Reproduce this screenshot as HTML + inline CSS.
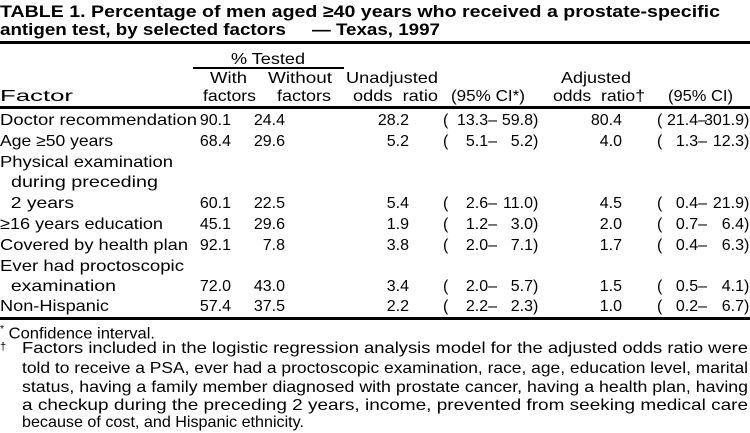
<!DOCTYPE html>
<html><head><meta charset="utf-8">
<style>
body{margin:0;background:#fff;}
#t{position:relative;width:750px;height:433px;overflow:hidden;font-family:"Liberation Sans",Arial,sans-serif;color:#000;font-size:16px;}
.a{position:absolute;line-height:20px;height:20px;white-space:pre;}
.r{text-align:right;}
.rule{position:absolute;background:#000;}
.b{font-weight:bold;font-size:17px;}
</style></head><body>
<div id="t">
<div class="a b" data-fit="720" style="left:0;top:2px">TABLE 1. Percentage of men aged ≥40 years who received a prostate-specific</div>
<div class="a b" data-fit="440" style="left:0;top:20px">antigen test, by selected factors     — Texas, 1997</div>
<div class="rule" style="left:0;top:41px;width:750px;height:3px"></div>
<div class="a" data-fit="74" style="left:231px;top:50px">% Tested</div>
<div class="rule" style="left:193px;top:67px;width:151px;height:2px"></div>
<div class="a" data-fit="37" style="left:210px;top:69px">With</div>
<div class="a" data-fit="53" style="left:203px;top:87px">factors</div>
<div class="a" data-fit="64" style="left:268px;top:69px">Without</div>
<div class="a" data-fit="54" style="left:277px;top:87px">factors</div>
<div class="a" data-fit="92" style="left:346px;top:69px">Unadjusted</div>
<div class="a" data-fit="85" style="left:353px;top:87px">odds  ratio</div>
<div class="a" data-fit="74" style="left:451px;top:87px">(95% CI*)</div>
<div class="a" data-fit="70" style="left:561px;top:69px">Adjusted</div>
<div class="a" data-fit="92" style="left:553px;top:87px">odds  ratio†</div>
<div class="a" data-fit="65" style="left:668px;top:87px">(95% CI)</div>
<div class="a" data-fit="73" style="left:0;top:87px">Factor</div>
<div class="rule" style="left:0;top:106px;width:750px;height:3px"></div>
<div id="rows"></div>
<div class="rule" style="left:0;top:317px;width:750px;height:3px"></div>
<div class="a" data-fit="155" style="left:0;top:320px"><sup style="font-size:10px">*</sup> Confidence interval.</div>
<div class="a" style="left:0;top:337px;font-size:11px">†</div>
<div class="a" data-fit="726" style="left:22px;top:339px">Factors included in the logistic regression analysis model for the adjusted odds ratio were</div>
<div class="a" data-fit="726" style="left:22px;top:359px">told to receive a PSA, ever had a proctoscopic examination, race, age, education level, marital</div>
<div class="a" data-fit="726" style="left:22px;top:378px">status, having a family member diagnosed with prostate cancer, having a health plan, having</div>
<div class="a" data-fit="726" style="left:22px;top:396px">a checkup during the preceding 2 years, income, prevented from seeking medical care</div>
<div class="a" data-fit="282" style="left:22px;top:413px">because of cost, and Hispanic ethnicity.</div>
</div>
<script>
const labels=["Doctor recommendation","Age ≥50 years","Physical examination","  during preceding","  2 years","≥16 years education","Covered by health plan","Ever had proctoscopic","  examination","Non-Hispanic"];
const labelWidths=[197,113,173,158,74,163,188,184,116,109];
const withF=["90.1","68.4","","","60.1","45.1","92.1","","72.0","57.4"];
const withoutF=["24.4","29.6","","","22.5","29.6","7.8","","43.0","37.5"];
const unadj=["28.2","5.2","","","5.4","1.9","3.8","","3.4","2.2"];
const unLo=["13.3","5.1","","","2.6","1.2","2.0","","2.0","2.2"];
const unHi=["59.8","5.2","","","11.0","3.0","7.1","","5.7","2.3"];
const adj=["80.4","4.0","","","4.5","2.0","1.7","","1.5","1.0"];
const adLo=["21.4","1.3","","","0.4","0.7","0.4","","0.5","0.2"];
const adHi=["301.9","12.3","","","21.9","6.4","6.3","","4.1","6.7"];
const rowTops=[111,132,153,173,194,215,236,257,277,297];
const root=document.getElementById('rows');
function cell(txt,x,top,right,name){
  const d=document.createElement('div');
  d.className='a'+(right?' r':'');
  d.textContent=txt;
  d.style.top=top+'px';
  if(right){d.style.right=(750-x)+'px';}else{d.style.left=x+'px';}
  
  
  root.appendChild(d);return d;
}
labels.forEach((l,i)=>{
  const t=rowTops[i];
  const lab=cell(l,0,t,false,'factor-label');
  lab.dataset.fit=labelWidths[i];
  if(withF[i]){
    cell(withF[i],231,t,true,'with-factors-value');
    cell(withoutF[i],285,t,true,'without-factors-value');
    cell(unadj[i],409,t,true,'unadjusted-or-value');
    cell('(',443,t,false,'ci-open');
    cell(unLo[i]+'–',497,t,true,'unadjusted-ci-lower');
    cell(unHi[i],533,t,true,'unadjusted-ci-upper');
    cell(')',533,t,false,'ci-close');
    cell(adj[i],622,t,true,'adjusted-or-value');
    cell('(',657,t,false,'ci-open');
    cell(adLo[i]+'–',707,t,true,'adjusted-ci-lower');
    cell(adHi[i],744,t,true,'adjusted-ci-upper');
    cell(')',744,t,false,'ci-close');
  }
});
document.querySelectorAll('[data-fit]').forEach(el=>{
  const w=el.getBoundingClientRect().width;
  const target=+el.dataset.fit;
  if(w>0){el.style.transformOrigin='left center';el.style.transform='scaleX('+(target/w)+')';}
});
</script>
</body></html>
